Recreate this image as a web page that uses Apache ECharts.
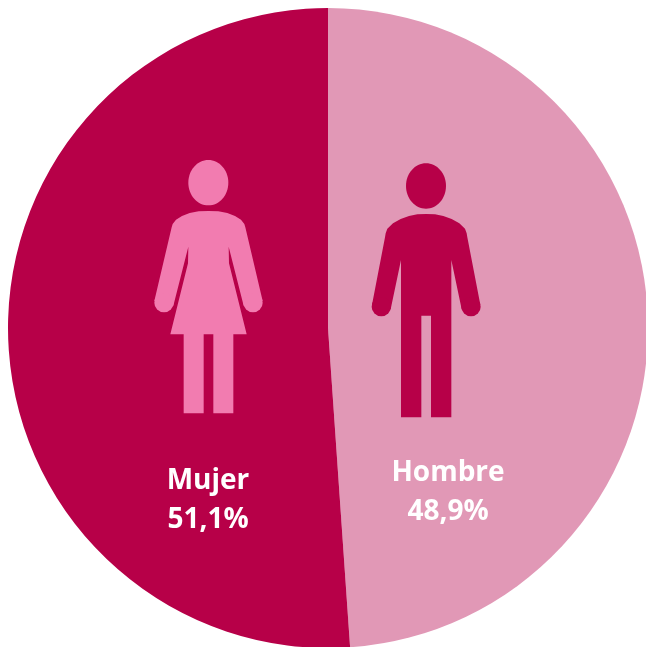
<!DOCTYPE html>
<html>
<head>
<meta charset="utf-8">
<style>
html, body { margin: 0; padding: 0; background: #fff; }
#main { width: 646px; height: 647px; }
</style>
<script src="https://cdn.jsdelivr.net/npm/echarts@6/dist/echarts.min.js"></script>
</head>
<body>
<div id="main"></div>
<script>
// datos
const categories = ['Hombre', 'Mujer'];
const percentages = [48.9, 51.1];

const colors = { mujer: '#B70048', hombre: '#E198B6', iconoMujer: '#F27CB0' };

// posicion del texto de cada sector
const labelCenters = { Hombre: [448, 493], Mujer: [208, 501] };

// la silueta se midio sobre un recorte a 3x, se pasa a pixeles aqui
function toPx(list, ox, oy) {
    return list.map(p => [ox + p[0] / 3, oy + p[1] / 3]);
}
function mirror(list, cx) {
    return list.slice().reverse().map(p => [2 * cx - p[0], p[1]]);
}

function personIcon(half, cx, arm, head, color, ox, oy) {
    const pts = toPx(half.concat(mirror(half, cx)), ox, oy);
    const r = arm.r / 3;
    const ay = oy + arm.y / 3;
    return [
        { type: 'polygon', shape: { points: pts }, style: { fill: color } },
        { type: 'circle', shape: { cx: ox + arm.x / 3, cy: ay, r: r }, style: { fill: color } },
        { type: 'circle', shape: { cx: ox + (2 * cx - arm.x) / 3, cy: ay, r: r }, style: { fill: color } },
        { type: 'ellipse', shape: { cx: ox + head.x / 3, cy: oy + head.y / 3, rx: head.rx / 3, ry: head.ry / 3 }, style: { fill: color } }
    ];
}

const womanHalf = [
    [205.5, 183], [235, 184], [262, 189], [285, 198], [303, 209], [313, 222], [316, 232], [368, 453],
    [311, 467], [266, 290], [267, 340], [320, 553], [280, 553], [280, 790],
    [220, 790], [220, 553]
];
const manHalf = [
    [198.5, 192], [225, 193], [250, 198], [275, 207], [298, 220], [315, 236], [320, 250], [322, 262], [361, 464],
    [305, 478], [274, 330], [274, 802], [213, 802], [213, 497]
];

const icons = []
    .concat(personIcon(womanHalf, 205.5, { x: 339, y: 458, r: 29 }, { x: 205, y: 98, rx: 60, ry: 68 }, colors.iconoMujer, 140, 150))
    .concat(personIcon(manHalf, 198.5, { x: 333, y: 470, r: 29 }, { x: 198, y: 108, rx: 60, ry: 68 }, colors.mujer, 360, 150));

const chart = echarts.init(document.getElementById('main'));

chart.setOption({
    animation: false,
    graphic: { elements: icons.map(el => Object.assign({ z: 100, silent: true }, el)) },
    series: [{
        type: 'pie',
        center: [328, 328],
        radius: [0, 320],
        startAngle: 90,
        clockwise: true,
        silent: true,
        avoidLabelOverlap: false,
        labelLine: { show: false },
        label: {
            show: true,
            position: 'inside',
            color: '#fff',
            fontFamily: '"Open Sans", "Noto Sans", sans-serif',
            fontWeight: 700,
            fontSize: 28,
            lineHeight: 39,
            align: 'center',
            verticalAlign: 'middle',
            formatter: p => p.name + '\n' + String(p.value).replace('.', ',') + '%'
        },
        labelLayout: function (params) {
            const name = categories[params.dataIndex];
            return { x: labelCenters[name][0], y: labelCenters[name][1], align: 'center', verticalAlign: 'middle' };
        },
        data: categories.map((name, i) => ({
            name: name,
            value: percentages[i],
            itemStyle: { color: name === 'Mujer' ? colors.mujer : colors.hombre }
        }))
    }]
});
</script>
</body>
</html>
